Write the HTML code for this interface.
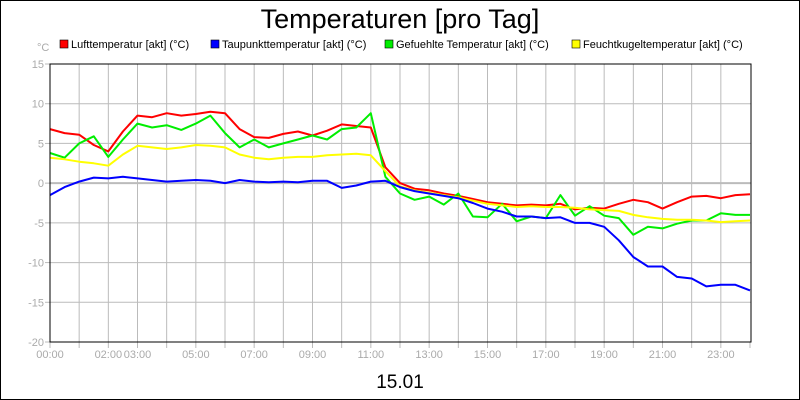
<!DOCTYPE html>
<html><head><meta charset="utf-8"><style>
body{margin:0;background:#fff}
svg{display:block;font-family:"Liberation Sans",sans-serif}
</style></head><body>
<svg id="c" width="800" height="400">
<rect x="0.5" y="0.5" width="799" height="399" fill="#fff" stroke="#000"/>
<text x="400" y="28" font-size="27" text-anchor="middle">Temperaturen [pro Tag]</text>
<text x="400" y="388" font-size="19" text-anchor="middle">15.01</text>
<text x="37" y="51" font-size="11" fill="#aaa">°C</text>
<g id="legend"></g>
<g id="grid"></g>
<g id="series"></g>
<rect x="50" y="64" width="701" height="278" fill="none" stroke="#000"/>
</svg>
<script>
const hours=[];for(let i=0;i<=48;i++)hours.push(i/2);
const yTicks=[15,10,5,0,-5,-10,-15,-20];
const xTickLabels=["00:00","02:00","03:00","05:00","07:00","09:00","11:00","13:00","15:00","17:00","19:00","21:00","23:00"];
const xTickHours=[0,2,3,5,7,9,11,13,15,17,19,21,23];
const seriesNames=["Lufttemperatur [akt] (°C)","Taupunkttemperatur [akt] (°C)","Gefuehlte Temperatur [akt] (°C)","Feuchtkugeltemperatur [akt] (°C)"];
const seriesColors=["#f00","#00f","#0e0","#ff0"];
const luft=[6.8,6.3,6.1,4.8,4.0,6.5,8.5,8.3,8.8,8.5,8.7,9.0,8.8,6.8,5.8,5.7,6.2,6.5,6.0,6.6,7.4,7.2,7.0,2.0,0,-0.7,-0.9,-1.3,-1.6,-2.0,-2.4,-2.6,-2.8,-2.7,-2.8,-2.6,-3.3,-3.1,-3.2,-2.6,-2.1,-2.4,-3.2,-2.4,-1.7,-1.6,-1.9,-1.5,-1.4];
const taupunkt=[-1.5,-0.5,0.2,0.7,0.6,0.8,0.6,0.4,0.2,0.3,0.4,0.3,0,0.4,0.2,0.1,0.2,0.1,0.3,0.3,-0.6,-0.3,0.2,0.3,-0.5,-1.0,-1.3,-1.6,-1.9,-2.5,-3.2,-3.6,-4.2,-4.2,-4.4,-4.3,-5.0,-5.0,-5.5,-7.2,-9.3,-10.5,-10.5,-11.8,-12.0,-13.0,-12.8,-12.8,-13.5];
const gefuehlt=[3.8,3.2,5.0,5.9,3.3,5.5,7.5,7.0,7.3,6.7,7.5,8.5,6.3,4.5,5.5,4.5,5.0,5.5,6.0,5.5,6.8,7.0,8.8,0.8,-1.3,-2.1,-1.7,-2.7,-1.3,-4.2,-4.3,-2.6,-4.8,-4.2,-4.4,-1.5,-4.1,-2.9,-4.1,-4.4,-6.5,-5.5,-5.7,-5.1,-4.7,-4.7,-3.8,-4.0,-4.0];
const feucht=[3.2,3.0,2.7,2.5,2.2,3.6,4.7,4.5,4.3,4.5,4.8,4.7,4.5,3.6,3.2,3.0,3.2,3.3,3.3,3.5,3.6,3.7,3.5,1.5,-0.4,-0.9,-1.2,-1.5,-1.8,-2.2,-2.6,-2.8,-3.0,-2.9,-3.0,-3.0,-3.1,-3.3,-3.4,-3.5,-4.0,-4.3,-4.5,-4.6,-4.6,-4.7,-4.9,-4.8,-4.7];
const NS="http://www.w3.org/2000/svg";
const X=h=>50+h*700/24, Y=v=>64+(15-v)*278/35;
function mk(t,a,p){const e=document.createElementNS(NS,t);for(const k in a)e.setAttribute(k,a[k]);p.appendChild(e);return e;}
const grid=document.getElementById('grid');
for(let h=1;h<24;h++){const l=mk('line',{x1:X(h),x2:X(h),y1:64,y2:342,stroke:'#bbb'},grid);

}
for(let h=0;h<=24;h++){const l=mk('line',{x1:X(h),x2:X(h),y1:342,y2:348,stroke:'#bbb'},grid);

}
yTicks.forEach(v=>{const y=Y(v);
if(v<15&&v>-20){const l=mk('line',{x1:50,x2:751,y1:y,y2:y,stroke:'#bbb','stroke-width':v===0?2:1},grid);

}
const tk=mk('line',{x1:45,x2:50,y1:y,y2:y,stroke:'#bbb'},grid);


const t=mk('text',{x:44,y:y+4,'font-size':11,fill:'#aaa','text-anchor':'end'},grid);t.textContent=v;

});
xTickHours.forEach((h,i)=>{const t=mk('text',{x:X(h),y:358,'font-size':11,fill:'#aaa','text-anchor':'middle'},grid);t.textContent=xTickLabels[i];

});
const ser=document.getElementById('series');
[luft,gefuehlt,feucht,taupunkt].forEach((d,k)=>{const ci=[0,2,3,1][k];
const p=mk('polyline',{points:d.map((v,i)=>X(hours[i]).toFixed(1)+','+Y(v).toFixed(1)).join(' '),fill:'none',stroke:seriesColors[ci],'stroke-width':2,'stroke-linejoin':'round'},ser);

});
const lg=document.getElementById('legend');const lx=[60,211,385,572];
seriesNames.forEach((n,i)=>{const r=mk('rect',{x:lx[i],y:40,width:8,height:8,fill:seriesColors[i],stroke:'#000','stroke-width':0.6},lg);


const t=mk('text',{x:lx[i]+11,y:48,'font-size':11},lg);t.textContent=n;

});
</script>
</body></html>
